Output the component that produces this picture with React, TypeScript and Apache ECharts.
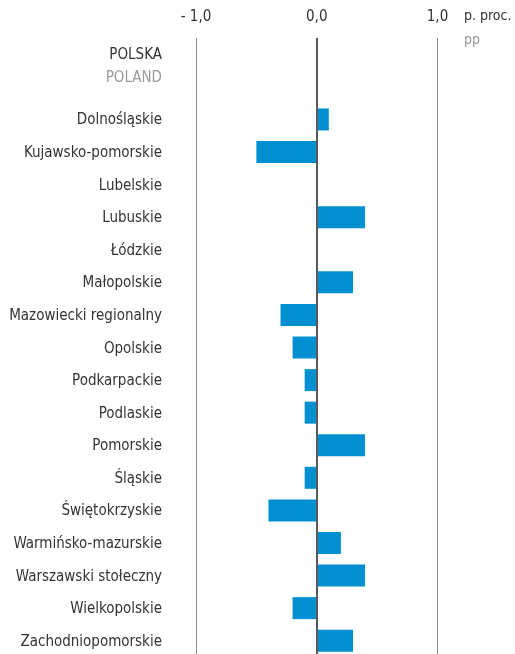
import React, { useEffect, useRef } from "react";
import * as echarts from "echarts";

const headerRows = ["POLSKA", "POLAND"];
const regions = [
  "Dolnośląskie",
  "Kujawsko-pomorskie",
  "Lubelskie",
  "Lubuskie",
  "Łódzkie",
  "Małopolskie",
  "Mazowiecki regionalny",
  "Opolskie",
  "Podkarpackie",
  "Podlaskie",
  "Pomorskie",
  "Śląskie",
  "Świętokrzyskie",
  "Warmińsko-mazurskie",
  "Warszawski stołeczny",
  "Wielkopolskie",
  "Zachodniopomorskie",
];
const values = [0.1, -0.5, 0.0, 0.4, 0.0, 0.3, -0.3, -0.2, -0.1, -0.1, 0.4, -0.1, -0.4, 0.2, 0.4, -0.2, 0.3];
const headerValues: (number | null)[] = [null, null];
const xTicks = [-1, 0, 1];
const unitPl = "p. proc.";
const unitEn = "pp";

const FONT = "'DejaVu Sans Condensed', 'Liberation Sans Narrow', sans-serif";
const FS = 15;

export default function App() {
  const ref = useRef<HTMLDivElement>(null);
  useEffect(() => {
    if (!ref.current) return;
    const chart = echarts.init(ref.current, undefined, { renderer: "svg" });
    chart.setOption({
      animation: false,
      textStyle: { fontFamily: FONT },
      grid: {
        left: 196,
        right: 77.5,
        top: 38,
        bottom: -3,
        containLabel: false,
        outerBoundsMode: "none",
      },
      xAxis: {
        type: "value",
        position: "top",
        min: xTicks[0],
        max: xTicks[xTicks.length - 1],
        interval: 1,
        axisLine: { show: false },
        axisTick: { show: false },
        splitLine: { show: true, lineStyle: { color: "#8c8c8c", width: 1 } },
        axisLabel: {
          margin: 15,
          fontSize: FS,
          color: "#333333",
          fontFamily: FONT,
          formatter: (v: number) =>
            v < 0 ? "- " + Math.abs(v).toFixed(1).replace(".", ",") : v.toFixed(1).replace(".", ","),
        },
      },
      yAxis: {
        type: "category",
        inverse: true,
        data: [...headerRows, ...regions],
        axisLine: { show: false },
        axisTick: { show: false },
        splitLine: { show: false },
        axisLabel: {
          margin: 34,
          fontSize: FS,
          color: "#333333",
          fontFamily: FONT,
          formatter: (v: string) => (v === headerRows[1] ? "{en|" + v + "}" : v),
          rich: {
            en: {
              color: "#9a9a9a",
              fontSize: FS,
              fontFamily: FONT,
              padding: [0, 0, 20, 0],
            },
          },
        },
      },
      series: [
        {
          type: "bar",
          data: [...headerValues, ...values],
          barWidth: 22,
          itemStyle: { color: "#008fd0" },
          markLine: {
            silent: true,
            symbol: "none",
            label: { show: false },
            lineStyle: { color: "#5a5a5a", width: 2, type: "solid" },
            data: [{ xAxis: 0 }],
          },
        },
      ],
      graphic: [
        { type: "text", left: 464, top: 8, style: { text: unitPl, fontSize: 14, fill: "#333333", fontFamily: FONT } },
        { type: "text", left: 464, top: 32, style: { text: unitEn, fontSize: 14, fill: "#9a9a9a", fontFamily: FONT } },
      ],
    });
    return () => chart.dispose();
  }, []);
  return <div ref={ref} style={{ position: "fixed", left: 0, top: 0, width: 515, height: 654 }} />;
}
